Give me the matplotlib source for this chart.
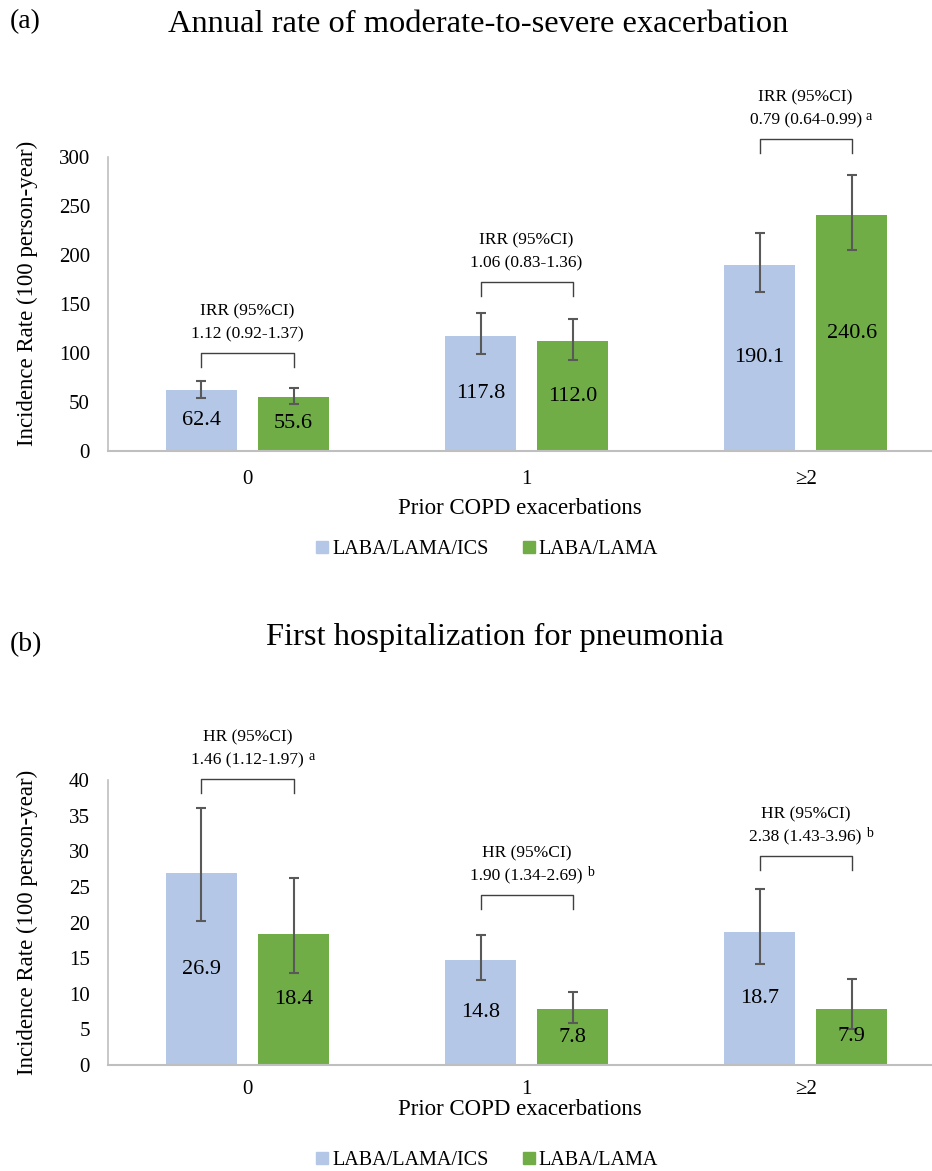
import numpy as np
import matplotlib
matplotlib.use("Agg")
from matplotlib import pyplot as plt
from matplotlib.lines import Line2D

plt.rcParams['font.family'] = ['Liberation Serif', 'DejaVu Serif']

# data
categories = ['0', '1', '\u22652']
series = ['LABA/LAMA/ICS', 'LABA/LAMA']

# (a) annual rate of moderate-to-severe exacerbation
exac_triple = [62.4, 117.8, 190.1]
exac_triple_lo = [54.4, 99.0, 162.2]
exac_triple_hi = [71.7, 140.5, 222.8]
exac_dual = [55.6, 112.0, 240.6]
exac_dual_lo = [48.0, 92.9, 204.8]
exac_dual_hi = [64.6, 134.7, 282.0]
exac_ratio = ['1.12 (0.92-1.37)', '1.06 (0.83-1.36)', '0.79 (0.64-0.99)']
exac_sig = ['', '', 'a']
exac_bracket = [100, 172, 318]

# (b) first hospitalization for pneumonia
pneu_triple = [26.9, 14.8, 18.7]
pneu_triple_lo = [20.2, 12.0, 14.2]
pneu_triple_hi = [36.1, 18.2, 24.7]
pneu_dual = [18.4, 7.8, 7.9]
pneu_dual_lo = [12.9, 5.85, 5.05]
pneu_dual_hi = [26.2, 10.3, 12.1]
pneu_ratio = ['1.46 (1.12-1.97)', '1.90 (1.34-2.69)', '2.38 (1.43-3.96)']
pneu_sig = ['a', 'b', 'b']
pneu_bracket = [40.1, 23.8, 29.3]

blue = '#B4C7E7'
green = '#70AD47'
errc = '#595959'
axc = '#BFBFBF'

W, H = 932, 1171
fig = plt.figure(figsize=(W / 100, H / 100), dpi=100)


def px(x0, y0, x1, y1):
    # axes rect from pixel box
    return [x0 / W, 1 - y1 / H, (x1 - x0) / W, (y1 - y0) / H]


def panel(rect, ymax, ystep, v1, lo1, hi1, v2, lo2, hi2, ratios, sigs, brk, lab):
    ax = fig.add_axes(rect)
    x = np.arange(len(categories))
    off, bw = 0.165, 0.255
    ax.bar(x - off, v1, bw, color=blue)
    ax.bar(x + off, v2, bw, color=green)
    ax.errorbar(x - off, v1, yerr=[np.subtract(v1, lo1), np.subtract(hi1, v1)],
                fmt='none', ecolor=errc, elinewidth=1.5, capsize=3.5, capthick=1.5)
    ax.errorbar(x + off, v2, yerr=[np.subtract(v2, lo2), np.subtract(hi2, v2)],
                fmt='none', ecolor=errc, elinewidth=1.5, capsize=3.5, capthick=1.5)
    for i in range(len(categories)):
        ax.text(x[i] - off, v1[i] / 2, f'{v1[i]:.1f}', ha='center', va='center', fontsize=16)
        ax.text(x[i] + off, v2[i] / 2, f'{v2[i]:.1f}', ha='center', va='center', fontsize=16)
        leg_len = ymax * 0.047
        ax.plot([x[i] - off, x[i] - off, x[i] + off, x[i] + off],
                [brk[i] - leg_len, brk[i], brk[i], brk[i] - leg_len],
                color='#404040', lw=1.0, clip_on=False)
        ax.annotate(lab, (x[i], brk[i]), xytext=(0, 30), textcoords='offset points',
                    ha='center', va='center', fontsize=12.5, annotation_clip=False)
        t = ax.annotate(ratios[i], (x[i], brk[i]), xytext=(0, 13.5), textcoords='offset points',
                        ha='center', va='center', fontsize=12.5, annotation_clip=False)
        if sigs[i]:
            ax.annotate(sigs[i], xy=(1, 0.75), xycoords=t, xytext=(3, 0),
                        textcoords='offset points', ha='left', va='center', fontsize=10)
    ax.set_xlim(-0.5, 2.453)
    ax.set_ylim(0, ymax)
    ax.set_yticks(np.arange(0, ymax + 0.1, ystep))
    ax.set_xticks(x)
    ax.set_xticklabels(categories)
    ax.tick_params(length=0, labelsize=15)
    ax.tick_params(axis='y', pad=13)
    ax.tick_params(axis='x', pad=14)
    for s in ['top', 'right']:
        ax.spines[s].set_visible(False)
    ax.spines['left'].set_color(axc)
    ax.spines['bottom'].set_color(axc)
    ax.spines['left'].set_linewidth(1.2)
    ax.spines['bottom'].set_linewidth(1.5)
    ax.set_ylabel('Incidence Rate (100 person-year)', fontsize=16.5)
    return ax


ax1 = panel(px(108, 157, 932, 451), 300, 50, exac_triple, exac_triple_lo, exac_triple_hi,
            exac_dual, exac_dual_lo, exac_dual_hi, exac_ratio, exac_sig, exac_bracket,
            'IRR (95%CI)')
ax1.set_xlabel('Prior COPD exacerbations', fontsize=16.5, labelpad=6)
ax1.yaxis.set_label_coords(-0.085, 0.535)

ax2 = panel(px(108, 780, 932, 1065), 40, 5, pneu_triple, pneu_triple_lo, pneu_triple_hi,
            pneu_dual, pneu_dual_lo, pneu_dual_hi, pneu_ratio, pneu_sig, pneu_bracket,
            'HR (95%CI)')
ax2.tick_params(axis='x', pad=11)
ax2.set_xlabel('Prior COPD exacerbations', fontsize=16.5, labelpad=0)
ax2.yaxis.set_label_coords(-0.085, 0.5)

fig.text(10 / W, 1 - 22 / H, '(a)', fontsize=20, ha='left', va='center')
fig.text(478 / W, 1 - 25 / H, 'Annual rate of moderate-to-severe exacerbation',
         fontsize=23.4, ha='center', va='center')
fig.text(10 / W, 1 - 645 / H, '(b)', fontsize=20, ha='left', va='center')
fig.text(495 / W, 1 - 637 / H, 'First hospitalization for pneumonia',
         fontsize=23.4, ha='center', va='center')

handles = [Line2D([], [], marker='s', ls='none', color=blue, markersize=8),
           Line2D([], [], marker='s', ls='none', color=green, markersize=8)]
for yc in [549, 1160]:
    fig.legend(handles, series, loc='center', bbox_to_anchor=(486 / W, 1 - yc / H),
               ncol=2, frameon=False, fontsize=14.5, handletextpad=0.1,
               columnspacing=1.6, handlelength=0.8)

fig.savefig('out.png', dpi=100)
